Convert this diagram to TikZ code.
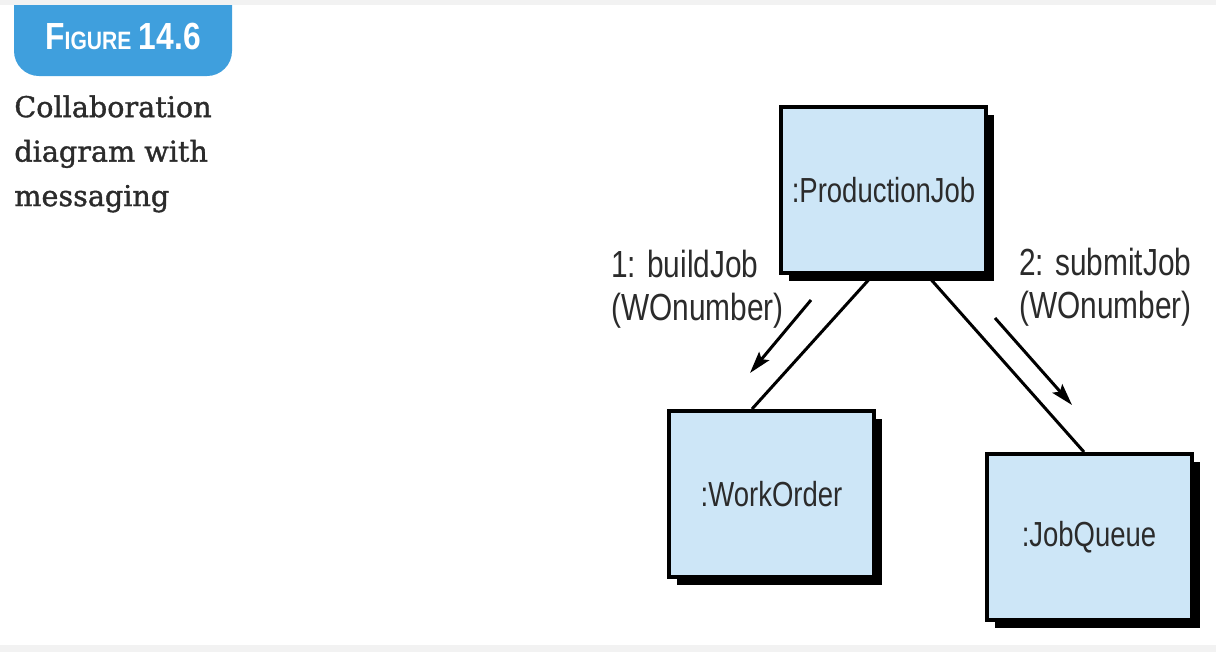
\documentclass[tikz,border=0pt]{standalone}
\usepackage{fontspec}
\setmainfont[FakeBold=1.3]{DejaVu Serif}
\newfontfamily\umlfont[FakeStretch=0.79]{Liberation Sans}
\newfontfamily\badgefont[FakeStretch=0.84]{Liberation Sans}
\usetikzlibrary{positioning, arrows.meta, shadows}

\definecolor{boxblue}{HTML}{CDE6F7}
\definecolor{badgeblue}{HTML}{3F9FDD}
\definecolor{inkgray}{HTML}{2B2B2B}

\begin{document}
\begin{tikzpicture}[node distance=2cm, >={Stealth[length=0.44cm,width=0.26cm,inset=0.08cm]}]
    \tikzstyle{object} = [rectangle,minimum width=4.1cm,minimum height=3.32cm,text centered,draw=black,line width=0.08cm,fill=boxblue,text=inkgray,font=\umlfont\fontsize{19.8}{22}\selectfont,drop shadow={shadow xshift=0.16cm,shadow yshift=-0.16cm,fill=black,opacity=1}]
    \tikzstyle{msg} = [anchor=north west,align=left,inner sep=0,text=inkgray,font=\umlfont\fontsize{21.5}{24.5}\selectfont]
    \tikzstyle{link} = [line width=0.06cm,black]

    \useasboundingbox (0,0) rectangle (24.32,-13.04);
    \fill [badgeblue,rounded corners=0.5cm] (0.28,0.5) rectangle (4.64,-1.52);
    \fill [gray!10] (0,0) rectangle (24.32,-0.1);
    \fill [gray!10] (0,-12.9) rectangle (24.32,-13.04);

    \node (fig) [text=white,font=\badgefont\bfseries\fontsize{21.5}{24}\selectfont] at (2.46,-0.73) {F{\fontsize{14.3}{16}\selectfont IGURE}\hspace{0.15cm}14.6};
    \node (caption) [anchor=north west,align=left,inner sep=0,text=inkgray,font=\fontsize{16.3}{25.3}\selectfont] at (0.28,-1.9) {Collaboration\\diagram with\\messaging};

    \node (job) [object] at (17.67,-3.8) {:ProductionJob};

    \node (order) [object,below=2.68cm of job,xshift=-2.24cm] {:WorkOrder};
    \draw [link] ([xshift=-0.21cm]job.south) -- ([xshift=-0.39cm]order.north);

    \node (queue) [object,below=3.54cm of job,xshift=4.11cm] {:JobQueue};
    \draw [link] ([xshift=0.87cm]job.south) -- ([xshift=-0.1cm]queue.north);

    \coordinate (build start) at (16.22,-6.0);
    \coordinate (build end) at (15.0,-7.46);
    \draw [link,->] (build start) -- (build end);
    \node (build) [msg] at (12.22,-5.0) {1: buildJob\\(WOnumber)};

    \coordinate (submit start) at (19.9,-6.36);
    \coordinate (submit end) at (21.44,-8.1);
    \draw [link,->] (submit start) -- (submit end);
    \node (submit) [msg] at (20.38,-4.96) {2: submitJob\\(WOnumber)};

\end{tikzpicture}
\end{document}
